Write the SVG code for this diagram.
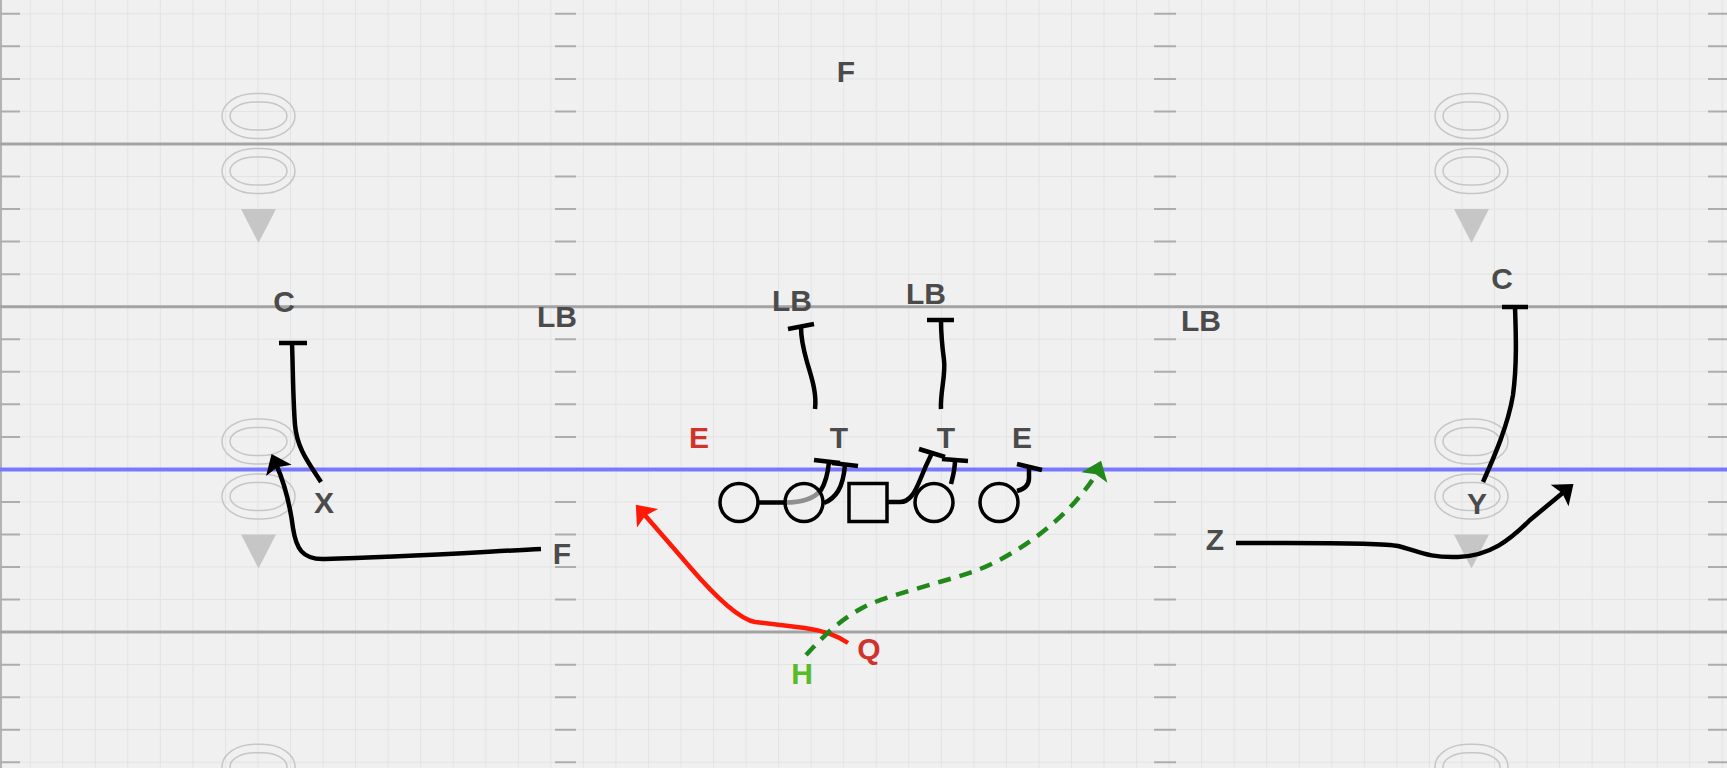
<svg xmlns="http://www.w3.org/2000/svg" xmlns:xlink="http://www.w3.org/1999/xlink" width="1727" height="768" viewBox="0 0 1727 768">
  <style>
    .yard { stroke: #a3a3a3; stroke-width: 3; fill: none; }
    .hash { stroke: #adadad; stroke-width: 2; fill: none; }
    .los { stroke: #7878ff; stroke-width: 4; fill: none; }
    .num { stroke: #c6c6c6; stroke-width: 1.5; fill: none; }
    .route { stroke: #000; stroke-width: 4.5; fill: none; stroke-linejoin: round; }
    .run { stroke: #ff1a08; stroke-width: 4.5; fill: none; stroke-linejoin: round; }
    .dash { stroke: #21891a; stroke-width: 4.5; fill: none; stroke-dasharray: 13 9; }
    .player { stroke: #000; stroke-width: 3.5; fill: #f0f0f0; fill-opacity: 0.6; }
    .lbl { font-family: "Liberation Sans", Arial, sans-serif; font-weight: bold; font-size: 30px; fill: #4b4b4b; text-anchor: middle; }
    .red { fill: #cf3329; }
    .green { fill: #58bb27; }
  </style>
  <defs>
    <pattern id="grid" x="13.93" y="-2.47" width="32.54" height="32.54" patternUnits="userSpaceOnUse">
      <path d="M16.27,0 V32.54 M0,16.27 H32.54" stroke="#e3e3e3" stroke-width="1" fill="none"/>
    </pattern>
    <g id="yardnum">
      <rect x="-36.5" y="-22.5" width="73" height="45" rx="33" ry="22.5" class="num"/>
      <rect x="-28.5" y="-14" width="57" height="28" rx="25" ry="14" class="num"/>
      <rect x="-36.5" y="32.5" width="73" height="45" rx="33" ry="22.5" class="num"/>
      <rect x="-28.5" y="41" width="57" height="28" rx="25" ry="14" class="num"/>
      <polygon points="-17.5,93 17.5,93 0,127" fill="#c6c6c6"/>
    </g>
    <marker id="arrow-black" markerUnits="userSpaceOnUse" viewBox="-20 -16 22 32" markerWidth="22" markerHeight="32" refX="-11" refY="0" orient="auto">
      <path d="M-18,-14 L0,0 L-18,14 L-14.5,0 Z" fill="#000"/>
    </marker>
    <marker id="arrow-red" markerUnits="userSpaceOnUse" viewBox="-20 -16 22 32" markerWidth="22" markerHeight="32" refX="-11" refY="0" orient="auto">
      <path d="M-18,-14 L0,0 L-18,14 L-14.5,0 Z" fill="#ff1a08"/>
    </marker>
    <marker id="arrow-green" markerUnits="userSpaceOnUse" viewBox="-20 -16 22 32" markerWidth="22" markerHeight="32" refX="-11" refY="0" orient="auto">
      <path d="M-18,-14 L0,0 L-18,14 L-14.5,0 Z" fill="#21891a"/>
    </marker>
  </defs>

  <!-- field -->
  <g id="field">
    <rect width="1727" height="768" fill="#f0f0f0"/>
    <rect width="1727" height="768" fill="url(#grid)"/>
    <path d="M1,0 V768" stroke="#b3b3b3" stroke-width="2"/>
    <path class="hash" d="
      M0,13.8 H20 M555,13.8 H576 M1154,13.8 H1176 M1708,13.8 H1727
      M0,46.3 H20 M555,46.3 H576 M1154,46.3 H1176 M1708,46.3 H1727
      M0,78.9 H20 M555,78.9 H576 M1154,78.9 H1176 M1708,78.9 H1727
      M0,111.5 H20 M555,111.5 H576 M1154,111.5 H1176 M1708,111.5 H1727
      M0,176.5 H20 M555,176.5 H576 M1154,176.5 H1176 M1708,176.5 H1727
      M0,209.1 H20 M555,209.1 H576 M1154,209.1 H1176 M1708,209.1 H1727
      M0,241.6 H20 M555,241.6 H576 M1154,241.6 H1176 M1708,241.6 H1727
      M0,274.2 H20 M555,274.2 H576 M1154,274.2 H1176 M1708,274.2 H1727
      M0,339.2 H20 M555,339.2 H576 M1154,339.2 H1176 M1708,339.2 H1727
      M0,371.8 H20 M555,371.8 H576 M1154,371.8 H1176 M1708,371.8 H1727
      M0,404.3 H20 M555,404.3 H576 M1154,404.3 H1176 M1708,404.3 H1727
      M0,436.9 H20 M555,436.9 H576 M1154,436.9 H1176 M1708,436.9 H1727
      M0,501.9 H20 M555,501.9 H576 M1154,501.9 H1176 M1708,501.9 H1727
      M0,534.5 H20 M555,534.5 H576 M1154,534.5 H1176 M1708,534.5 H1727
      M0,567 H20 M555,567 H576 M1154,567 H1176 M1708,567 H1727
      M0,599.6 H20 M555,599.6 H576 M1154,599.6 H1176 M1708,599.6 H1727
      M0,664.7 H20 M555,664.7 H576 M1154,664.7 H1176 M1708,664.7 H1727
      M0,697.2 H20 M555,697.2 H576 M1154,697.2 H1176 M1708,697.2 H1727
      M0,729.8 H20 M555,729.8 H576 M1154,729.8 H1176 M1708,729.8 H1727
      M0,762.3 H20 M555,762.3 H576 M1154,762.3 H1176 M1708,762.3 H1727"/>
    <use xlink:href="#yardnum" href="#yardnum" x="258.5" y="116"/>
    <use xlink:href="#yardnum" href="#yardnum" x="1471.5" y="116"/>
    <use xlink:href="#yardnum" href="#yardnum" x="258.5" y="441.4"/>
    <use xlink:href="#yardnum" href="#yardnum" x="1471.5" y="441.4"/>
    <use xlink:href="#yardnum" href="#yardnum" x="258.5" y="766.8"/>
    <use xlink:href="#yardnum" href="#yardnum" x="1471.5" y="766.8"/>
    <path class="yard" d="M0,144 H1727 M0,306.7 H1727 M0,632.1 H1727"/>
    <path class="los" d="M0,469.4 H1727"/>
  </g>

  <!-- routes and blocks -->
  <g id="connectors">
    <!-- X to C -->
    <path class="route" d="M321,482 C308,462 297,448 295,425 C293,400 293,370 292,343"/>
    <path class="route" d="M279,343 H307"/>
    <!-- F motion -->
    <path class="route" d="M541,549 C480,552 400,557 325,559 C302,560 296,548 293,528 C290,505 284,482 276,464" marker-end="url(#arrow-black)"/>
    <!-- linebackers -->
    <path class="route" d="M815,409 C817,392 811,376 807,362 C803,348 801,338 801,327"/>
    <path class="route" d="M788,329 L814,324"/>
    <path class="route" d="M941,409 C940,392 946,375 944,360 C942,345 941,332 941,320"/>
    <path class="route" d="M927,320 H954"/>
    <!-- line blocks -->
    <path class="route" d="M759,502.5 L785,502.5 C800,502.5 814,499 821,490 C826,482 828,472 829,462"/>
    <path class="route" d="M814,460 L840,463"/>
    <path class="route" d="M824,503 C836,498 843,488 845,465"/>
    <path class="route" d="M832,463 L858,466"/>
    <path class="route" d="M888,502 L900,502 C910,502 915,492 920,480 C924,470 928,461 932,453"/>
    <path class="route" d="M919,449 L945,457"/>
    <path class="route" d="M951,484 C953,476 955,470 955,460"/>
    <path class="route" d="M942,459 L968,461"/>
    <path class="route" d="M1017,491 C1025,489 1029,485 1029,478 L1029,467"/>
    <path class="route" d="M1017,464 L1042,470"/>
    <!-- Y to C -->
    <path class="route" d="M1483,482 C1495,455 1508,425 1513,395 C1517,365 1516,335 1515,307"/>
    <path class="route" d="M1502,307 H1528"/>
    <!-- Z -->
    <path class="route" d="M1236,543 C1300,543 1380,542 1398,546 C1418,551 1428,558 1458,557 C1490,556 1510,540 1530,520 L1565,491" marker-end="url(#arrow-black)"/>
    <!-- Q -->
    <path class="run" d="M848,643 C838,636 826,631 805,628 L755,622 C738,619 713,594 689,566 C672,546 656,528 643,513" marker-end="url(#arrow-red)"/>
    <!-- H -->
    <path class="dash" d="M806,655 C820,640 840,618 870,604 C900,592 940,583 975,571 C1010,558 1050,530 1075,502 C1085,490 1093,481 1097,471" marker-end="url(#arrow-green)"/>
  </g>

  <!-- offensive line -->
  <g id="lt"><circle cx="739" cy="502.5" r="19" class="player"/></g>
  <g id="lg"><circle cx="804" cy="502.5" r="19" class="player"/></g>
  <g id="center"><rect x="849" y="483.5" width="38" height="38" class="player"/></g>
  <g id="rg"><circle cx="934" cy="502.5" r="19" class="player"/></g>
  <g id="rt"><circle cx="999" cy="502.5" r="19" class="player"/></g>

  <!-- labels -->
  <g id="f-deep"><text class="lbl" x="846" y="82">F</text></g>
  <g id="c-left"><text class="lbl" x="284" y="312">C</text></g>
  <g id="lb-left"><text class="lbl" x="557" y="327">LB</text></g>
  <g id="lb-1"><text class="lbl" x="792" y="311">LB</text></g>
  <g id="lb-2"><text class="lbl" x="926" y="304">LB</text></g>
  <g id="lb-right"><text class="lbl" x="1201" y="331">LB</text></g>
  <g id="c-right"><text class="lbl" x="1502" y="289">C</text></g>
  <g id="e-left"><text class="lbl red" x="699" y="448">E</text></g>
  <g id="t-1"><text class="lbl" x="839" y="448">T</text></g>
  <g id="t-2"><text class="lbl" x="946" y="448">T</text></g>
  <g id="e-right"><text class="lbl" x="1022" y="448">E</text></g>
  <g id="x"><text class="lbl" x="324" y="513">X</text></g>
  <g id="f-back"><text class="lbl" x="562" y="564">F</text></g>
  <g id="y"><text class="lbl" x="1477" y="514">Y</text></g>
  <g id="z"><text class="lbl" x="1215" y="550">Z</text></g>
  <g id="q"><text class="lbl red" x="869" y="659">Q</text></g>
  <g id="h"><text class="lbl green" x="802" y="684">H</text></g>
</svg>
